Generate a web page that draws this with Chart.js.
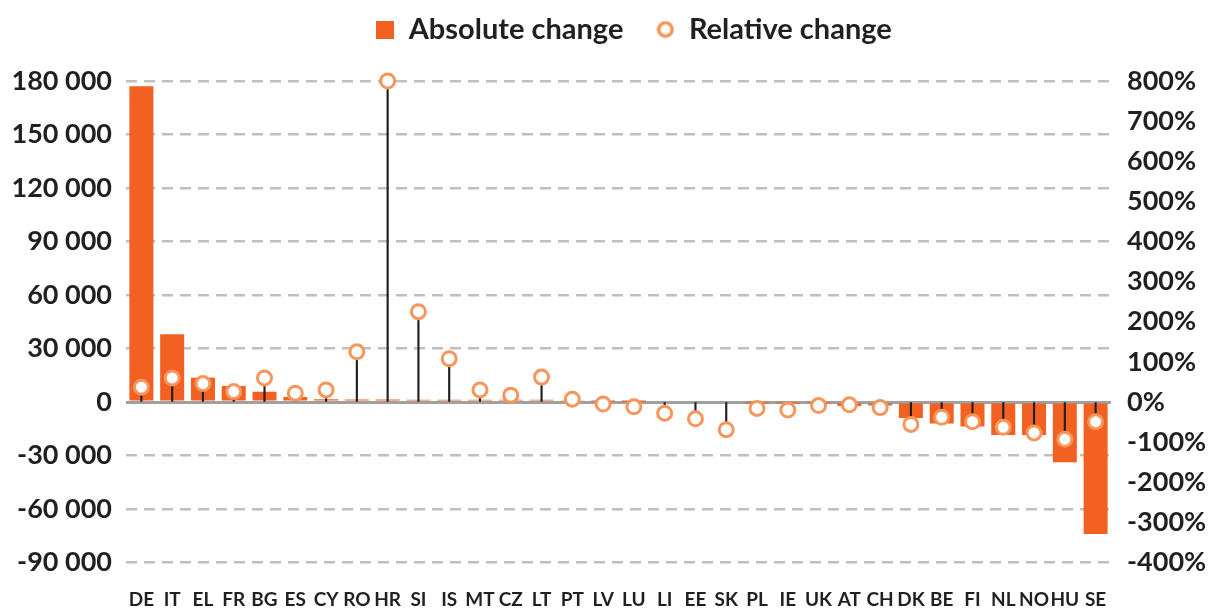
<!DOCTYPE html>
<html>
<head>
<meta charset="utf-8">
<script src="https://cdn.jsdelivr.net/npm/chart.js@4/dist/chart.umd.min.js"></script>
<style>
  html, body { margin: 0; padding: 0; background: #ffffff; }
  #wrap { width: 1210px; height: 610px; }
</style>
</head>
<body>
<div id="wrap"><canvas id="c" width="1210" height="610"></canvas></div>
<script>
// ---------- data ----------
const categories = ['DE','IT','EL','FR','BG','ES','CY','RO','HR','SI','IS','MT','CZ','LT','PT','LV','LU','LI','EE','SK','PL','IE','UK','AT','CH','DK','BE','FI','NL','NO','HU','SE'];
const absoluteChange = [177000, 38000, 13600, 9000, 5800, 2800, 1500, 1400, 1400, 1300, 1300, 1200, 1200, 1200, 1000, 300, 200, -800, -800, -800, -200, -300, -300, -2200, -2000, -9000, -12000, -13700, -18500, -18500, -33800, -74000];
const relativeChange = [37, 60, 46, 26, 60, 22, 30, 125, 800, 225, 108, 30, 17, 62, 7, -5, -12, -28, -42, -69, -16, -20, -9, -7, -14, -56, -38, -49, -63, -77, -93, -49];
const legendLabels = ['Absolute change', 'Relative change'];
const leftTickValues = [-90000, -60000, -30000, 0, 30000, 60000, 90000, 120000, 150000, 180000];
const leftTickLabels = ['-90 000', '-60 000', '-30 000', '0', '30 000', '60 000', '90 000', '120 000', '150 000', '180 000'];
const rightTickValues = [-400, -300, -200, -100, 0, 100, 200, 300, 400, 500, 600, 700, 800];
const rightTickLabels = ['-400%', '-300%', '-200%', '-100%', '0%', '100%', '200%', '300%', '400%', '500%', '600%', '700%', '800%'];

// ---------- styles ----------
const BAR = '#F26122';
const MARK = '#F7965A';
const STEM = '#231F20';
const TEXT = '#231F20';
const GRID = '#BFBFBF';
const ZERO = '#A0A0A0';
const FONT = 'Lato, "Open Sans", "DejaVu Sans", sans-serif';
const LEGEND_H = 99;
const LEGEND_SHIFT = 29;

function makeSquare() {
  const c = document.createElement('canvas');
  c.width = 18; c.height = 18;
  const g = c.getContext('2d');
  g.fillStyle = BAR; g.fillRect(0, 0, 18, 18);
  return c;
}
function makeCircle() {
  const c = document.createElement('canvas');
  c.width = 18; c.height = 18;
  const g = c.getContext('2d');
  g.beginPath(); g.arc(9, 9, 6.7, 0, Math.PI * 2);
  g.fillStyle = '#ffffff'; g.fill();
  g.lineWidth = 3.6; g.strokeStyle = MARK; g.stroke();
  return c;
}

const legendFix = {
  id: 'legendFix',
  beforeInit(chart) {
    const lg = chart.legend;
    if (!lg || lg._patched) return;
    lg._patched = true;
    const of = lg.fit;
    lg.fit = function () { of.call(this); this.height = LEGEND_H; };
    const od = lg.draw;
    lg.draw = function () {
      this.ctx.save(); this.ctx.translate(LEGEND_SHIFT, 0); od.call(this); this.ctx.restore();
    };
  }
};

function draw() {
  const sq = makeSquare(), circ = makeCircle();
  new Chart(document.getElementById('c'), {
    data: {
      labels: categories,
      datasets: [
        { type: 'bar', label: legendLabels[0], data: absoluteChange, yAxisID: 'y',
          backgroundColor: BAR, borderWidth: 0, categoryPercentage: 1, barPercentage: 0.78,
          grouped: false, order: 3 },
        { type: 'bar', label: 'stem', data: relativeChange.map(v => [0, v]), yAxisID: 'y2',
          backgroundColor: STEM, borderWidth: 0, barThickness: 1.5, grouped: false, order: 2 },
        { type: 'line', label: legendLabels[1], data: relativeChange, yAxisID: 'y2',
          showLine: false, pointStyle: 'circle', pointRadius: 7, pointHoverRadius: 7,
          pointBorderWidth: 3, pointBackgroundColor: '#ffffff', pointBorderColor: MARK,
          clip: false, order: 1 }
      ]
    },
    options: {
      responsive: false,
      animation: false,
      events: [],
      layout: { padding: { top: -18, left: 0, right: 0, bottom: 0 } },
      plugins: {
        tooltip: { enabled: false },
        legend: {
          position: 'top',
          labels: {
            usePointStyle: true,
            boxWidth: 18, boxHeight: 18,
            padding: 33,
            color: TEXT,
            font: { family: FONT, size: 29, weight: 'bold' },
            generateLabels(chart) {
              const items = Chart.defaults.plugins.legend.labels.generateLabels(chart);
              return items.filter(i => i.datasetIndex !== 1)
                .sort((a, b) => a.datasetIndex - b.datasetIndex)
                .map(i => {
                  i.pointStyle = i.datasetIndex === 0 ? sq : circ;
                  return i;
                });
            }
          }
        }
      },
      scales: {
        x: {
          type: 'category',
          offset: true,
          grid: { display: false, drawTicks: false },
          border: { display: false },
          ticks: { autoSkip: false, maxRotation: 0, minRotation: 0, padding: 26,
                   color: TEXT, font: { family: FONT, size: 19, weight: 'bold' } },
          afterFit(scale) { scale.height = 47.5; }
        },
        y: {
          position: 'left',
          min: -90000, max: 180000,
          afterBuildTicks(scale) { scale.ticks = leftTickValues.map(v => ({ value: v })); },
          ticks: { padding: 14, color: TEXT, font: { family: FONT, size: 27, weight: 'bold' },
                   callback: (v, i) => leftTickLabels[i] },
          grid: {
            drawTicks: false,
            color: ctx => (ctx.tick && ctx.tick.value === 0 ? ZERO : GRID),
            lineWidth: ctx => (ctx.tick && ctx.tick.value === 0 ? 3 : 2.5)
          },
          border: { display: false, dash: ctx => (ctx.tick && ctx.tick.value === 0 ? [] : [11, 7]) },
          afterFit(scale) { scale.width = 126; }
        },
        y2: {
          position: 'right',
          min: -400, max: 800,
          afterBuildTicks(scale) { scale.ticks = rightTickValues.map(v => ({ value: v })); },
          ticks: { padding: 16, color: TEXT, font: { family: FONT, size: 27, weight: 'bold' },
                   callback: (v, i) => rightTickLabels[i] },
          grid: { drawOnChartArea: false, drawTicks: false },
          border: { display: false },
          afterFit(scale) { scale.width = 99; }
        }
      }
    },
    plugins: [legendFix]
  });
}

Promise.all([
  document.fonts.load('bold 29px Lato'),
  document.fonts.load('bold 19px Lato')
]).then(draw, draw);
</script>
</body>
</html>
